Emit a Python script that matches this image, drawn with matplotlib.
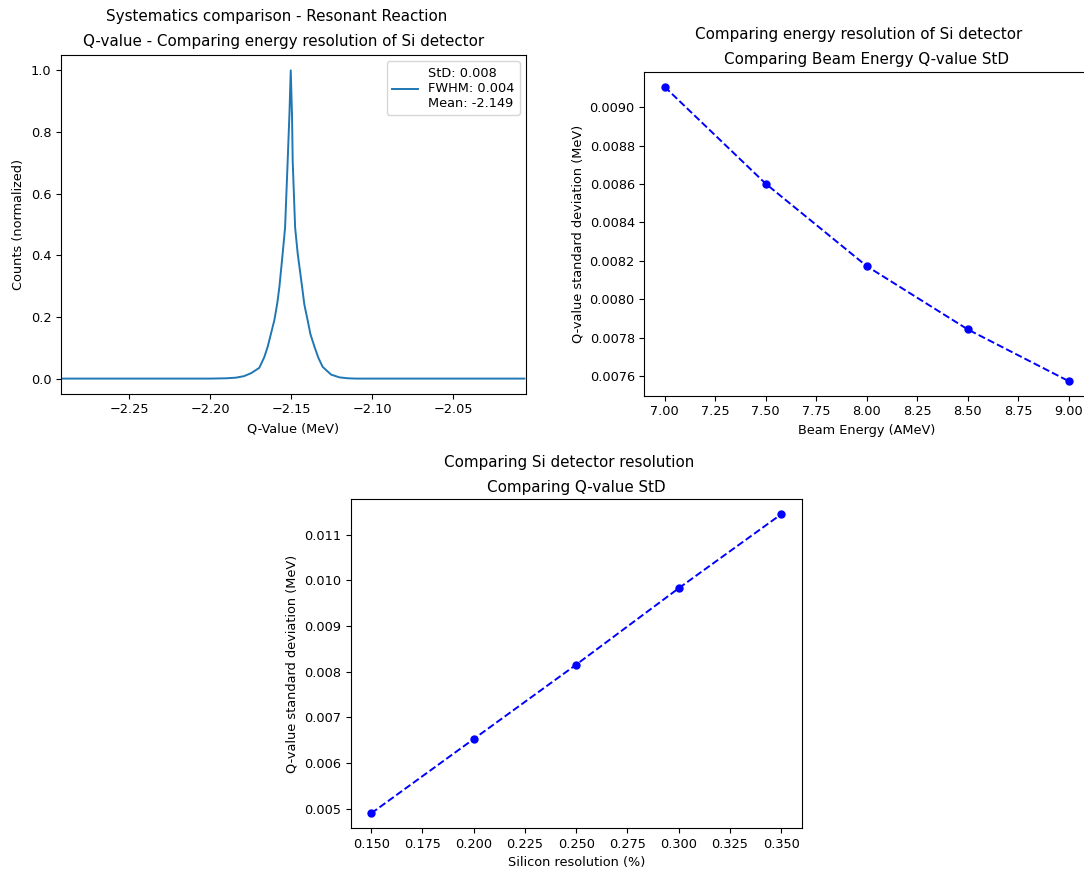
import matplotlib
matplotlib.use("Agg")
import matplotlib.pyplot as plt

# Q-value spectrum (normalized counts)
q_value = [-2.291, -2.200, -2.190, -2.184, -2.179, -2.1745, -2.1696, -2.1665,
           -2.1644, -2.1622, -2.1603, -2.1585, -2.1572, -2.1552, -2.1537,
           -2.1521, -2.1510, -2.1502, -2.1494, -2.1490, -2.1475, -2.1459,
           -2.1432, -2.1418, -2.1398, -2.1381, -2.1356, -2.1332, -2.1305,
           -2.1253, -2.1202, -2.115, -2.110, -2.006]
counts = [0.0, 0.0, 0.001, 0.003, 0.008, 0.018, 0.035, 0.070,
          0.104, 0.150, 0.190, 0.245, 0.298, 0.405, 0.490,
          0.706, 0.860, 1.000, 0.850, 0.706, 0.490, 0.405,
          0.298, 0.240, 0.190, 0.145, 0.104, 0.068, 0.038,
          0.013, 0.004, 0.001, 0.0, 0.0]
peak_label = "StD: 0.008\nFWHM: 0.004\nMean: -2.149"

# Q-value standard deviation vs beam energy
beam_energy = [7.0, 7.5, 8.0, 8.5, 9.0]
std_beam = [0.009107, 0.008602, 0.008172, 0.007842, 0.007572]

# Q-value standard deviation vs silicon resolution
si_resolution = [0.15, 0.20, 0.25, 0.30, 0.35]
std_si = [0.004898, 0.006525, 0.008153, 0.009825, 0.011445]

BASE = 9.3
plt.rcParams.update({
    "font.size": BASE,
    "axes.labelsize": BASE,
    "xtick.labelsize": BASE,
    "ytick.labelsize": BASE,
    "legend.fontsize": BASE,
    "xtick.major.size": 3.3,
    "ytick.major.size": 3.3,
})

W, H = 1084, 875
fig = plt.figure(figsize=(W / 100, H / 100), dpi=100)


def px_axes(left, top, right, bottom):
    return fig.add_axes([left / W, 1 - bottom / H, (right - left) / W, (bottom - top) / H])


def px_text(x, y, s, size=10.9):
    fig.text(x / W, 1 - y / H, s, ha="center", va="center", fontsize=size)


# Spectrum
ax1 = px_axes(61, 55, 526, 394)
ax1.plot(q_value, counts, color="C0", lw=1.4, label=peak_label)
ax1.set_xlim(-2.292, -2.005)
ax1.set_ylim(-0.05, 1.05)
ax1.set_xlabel("Q-Value (MeV)")
ax1.set_ylabel("Counts (normalized)")
ax1.legend(loc="upper right")

# Beam energy scan
ax2 = px_axes(644.3, 72, 1089.2, 396)
ax2.plot(beam_energy, std_beam, "bo--", markersize=5, lw=1.4)
ax2.set_xlabel("Beam Energy (AMeV)")
ax2.set_ylabel("Q-value standard deviation (MeV)")

# Silicon resolution scan
ax3 = px_axes(350.7, 499.3, 801.7, 828.3)
ax3.plot(si_resolution, std_si, "bo--", markersize=5, lw=1.4)
ax3.set_xlabel("Silicon resolution (%)")
ax3.set_ylabel("Q-value standard deviation (MeV)")

px_text(276.3, 16, "Systematics comparison - Resonant Reaction")
px_text(283.3, 41.5, "Q-value - Comparing energy resolution of Si detector")
px_text(859, 35, "Comparing energy resolution of Si detector")
px_text(866, 59.5, "Comparing Beam Energy Q-value StD")
px_text(569, 462, "Comparing Si detector resolution")
px_text(576.5, 487, "Comparing Q-value StD")

fig.savefig("out.png", dpi=100)
